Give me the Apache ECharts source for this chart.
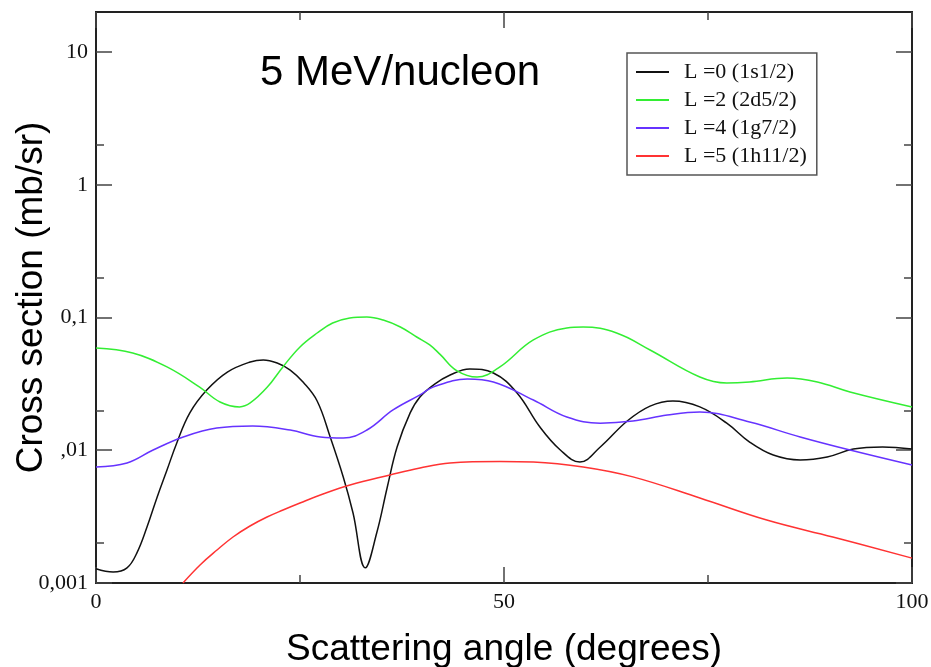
<!DOCTYPE html>
<html><head><meta charset="utf-8">
<script src="https://cdn.jsdelivr.net/npm/echarts@6/dist/echarts.min.js"></script>
<style>html,body{margin:0;padding:0;background:#fff}#c{width:931px;height:667px}</style>
</head><body><div id="c"></div>
<script>
const chartTitle = '5 MeV/nucleon';
const xName = 'Scattering angle (degrees)';
const yName = 'Cross section (mb/sr)';
const seriesNames = ['L =0 (1s1/2)', 'L =2 (2d5/2)', 'L =4 (1g7/2)', 'L =5 (1h11/2)'];
const seriesColors = ['#111111', '#33ee33', '#6633ff', '#ff3333'];

const l0Angle = [0, 2.1, 3.8, 5.0, 6.25, 7.5, 8.7, 9.9, 11.5, 13.6, 16.1, 18.9, 20.5, 22.2, 23.8, 25.4, 27.1, 28.7, 30.3, 31.5, 33.0, 34.4, 35.7, 36.9, 38.5, 39.7, 41.5, 43.4, 45.8, 48.7, 51.6, 54.4, 56.9, 59.3, 61.8, 65.1, 67.9, 70.7, 74.0, 77.3, 80.1, 83.0, 86.3, 89.6, 92.8, 96.4, 100];
const l0Value = [0.00128, 0.00121, 0.00130, 0.00168, 0.00264, 0.00445, 0.0071, 0.01135, 0.0191, 0.0285, 0.0388, 0.0462, 0.0479, 0.0454, 0.0402, 0.0325, 0.0235, 0.01259, 0.00629, 0.00337, 0.00130, 0.00238, 0.00529, 0.01058, 0.0191, 0.0252, 0.0315, 0.0369, 0.0409, 0.0382, 0.0270, 0.01496, 0.01004, 0.00815, 0.01058, 0.0166, 0.0215, 0.0235, 0.0212, 0.0160, 0.01153, 0.0092, 0.00845, 0.00889, 0.0102, 0.01058, 0.0102];

const l2Angle = [0, 4.5, 8.7, 12.7, 15.2, 17.6, 18.9, 21.0, 22.9, 25.0, 27.1, 29.0, 31.1, 33.2, 35.2, 37.3, 39.3, 40.9, 42.2, 44.2, 46.7, 49.5, 53.6, 57.7, 59.7, 63.8, 67.9, 74, 77.3, 80.1, 84.7, 88.4, 92.4, 100];
const l2Value = [0.0589, 0.0540, 0.0424, 0.0299, 0.0231, 0.0212, 0.0227, 0.0299, 0.0424, 0.0600, 0.0764, 0.0909, 0.0991, 0.1009, 0.0957, 0.0848, 0.0713, 0.0621, 0.0525, 0.0398, 0.0356, 0.0424, 0.0677, 0.0834, 0.0848, 0.0764, 0.0569, 0.0356, 0.0321, 0.0327, 0.0350, 0.0327, 0.0275, 0.0212];

const l4Angle = [0, 3.8, 7.0, 10.7, 14.8, 19.2, 23.8, 27.5, 30.3, 33.2, 36.4, 39.7, 41.3, 45.5, 48.7, 53.6, 57.7, 61.8, 65.8, 70.0, 74, 80.1, 86.3, 92.4, 100];
const l4Value = [0.00748, 0.00802, 0.01004, 0.01259, 0.0147, 0.01523, 0.0142, 0.01259, 0.01236, 0.0142, 0.0201, 0.0261, 0.0299, 0.0344, 0.0327, 0.0239, 0.0178, 0.0160, 0.0166, 0.0184, 0.0194, 0.0163, 0.01259, 0.01004, 0.00774];

const l5Angle = [10.66, 12.75, 14.83, 16.79, 18.87, 20.96, 22.92, 25.0, 27.82, 31.13, 36.03, 39.71, 43.38, 49.5, 53.6, 59.7, 65.8, 74, 82.2, 90.3, 100];
const l5Value = [0.001, 0.001367, 0.001772, 0.002221, 0.002688, 0.003143, 0.003548, 0.004005, 0.004681, 0.005472, 0.00651, 0.00735, 0.00802, 0.00823, 0.00815, 0.00748, 0.0063, 0.00437, 0.00298, 0.00222, 0.00154];

const xMajorTicks = [0, 50, 100];
const xMinorTicks = [25, 75];
const yMajorTicks = [0.001, 0.01, 0.1, 1, 10];
const yTickLabels = ['0,001', ',01', '0,1', '1', '10'];
const yMinorTicks = [0.002, 0.02, 0.2, 2];

const xMin = 0, xMax = 100, yMin = 0.001, yMax = 20;

const zip = (a, b) => a.map((v, i) => [v, b[i]]);
const allData = [zip(l0Angle, l0Value), zip(l2Angle, l2Value), zip(l4Angle, l4Value), zip(l5Angle, l5Value)];

const axisCol = '#222';
const labelFont = {fontFamily: 'Liberation Serif', fontSize: 22, color: '#111'};

function xAx(grid, pos, ticks, len, labels) {
  return {
    gridIndex: grid, type: 'value', position: pos, min: xMin, max: xMax, interval: 50,
    axisLine: {show: true, onZero: false, lineStyle: {color: axisCol, width: 2}},
    axisTick: {show: true, inside: true, length: len, customValues: ticks, lineStyle: {color: '#444', width: 1.5}},
    axisLabel: labels ? Object.assign({show: true, margin: 8, customValues: xMajorTicks}, labelFont) : {show: false},
    splitLine: {show: false},
    name: labels ? xName : '', nameLocation: 'middle', nameGap: 48, nameMoveOverlap: false,
    nameTextStyle: {fontFamily: 'Liberation Sans', fontSize: 37, color: '#000'}
  };
}
function yAx(grid, pos, ticks, len, labels) {
  return {
    gridIndex: grid, type: 'log', logBase: 10, position: pos, min: yMin, max: yMax,
    axisLine: {show: true, onZero: false, lineStyle: {color: axisCol, width: 2}},
    axisTick: {show: true, inside: true, length: len, customValues: ticks, lineStyle: {color: '#444', width: 1.5}},
    axisLabel: labels ? Object.assign({
      show: true, margin: 8, customValues: yMajorTicks,
      formatter: v => { const i = yMajorTicks.findIndex(t => Math.abs(Math.log10(t) - Math.log10(v)) < 1e-6); return i >= 0 ? yTickLabels[i] : ''; }
    }, labelFont) : {show: false},
    splitLine: {show: false},
    name: labels ? yName : '', nameLocation: 'middle', nameGap: 46, nameMoveOverlap: false,
    nameTextStyle: {fontFamily: 'Liberation Sans', fontSize: 37, color: '#000'}
  };
}

const gridRect = {left: 96, right: 19, top: 12, bottom: 84, outerBoundsMode: 'none', containLabel: false};

const chart = echarts.init(document.getElementById('c'), null, {renderer: 'canvas'});
chart.setOption({
  animation: false,
  backgroundColor: '#fff',
  title: {text: chartTitle, left: 255, top: 47, textStyle: {fontFamily: 'Liberation Sans', fontSize: 42, fontWeight: 'normal', color: '#000'}},
  grid: [Object.assign({}, gridRect), Object.assign({}, gridRect), Object.assign({}, gridRect), Object.assign({}, gridRect)],
  legend: {
    orient: 'vertical', left: 627, top: 53,
    backgroundColor: '#fff', borderColor: '#555', borderWidth: 1.5, borderRadius: 0,
    padding: [8, 10, 8, 9], itemGap: 6, itemWidth: 33, itemHeight: 2, icon: 'rect',
    textStyle: {fontFamily: 'Liberation Serif', fontSize: 22, color: '#111', padding: [0, 0, 0, 10]},
    data: seriesNames
  },
  xAxis: [
    xAx(0, 'bottom', xMajorTicks, 16, true),
    xAx(1, 'bottom', xMinorTicks, 8, false),
    xAx(2, 'top', xMajorTicks, 16, false),
    xAx(3, 'top', xMinorTicks, 8, false)
  ],
  yAxis: [
    yAx(0, 'left', yMajorTicks, 16, true),
    yAx(1, 'left', yMinorTicks, 8, false),
    yAx(2, 'right', yMajorTicks, 16, false),
    yAx(3, 'right', yMinorTicks, 8, false)
  ],
  series: seriesNames.map((n, i) => ({
    name: n, type: 'line', xAxisIndex: 0, yAxisIndex: 0, data: allData[i],
    symbol: 'none', smooth: 0.4, clip: true,
    lineStyle: {color: seriesColors[i], width: 1.5}, itemStyle: {color: seriesColors[i]}
  }))
});
</script></body></html>
